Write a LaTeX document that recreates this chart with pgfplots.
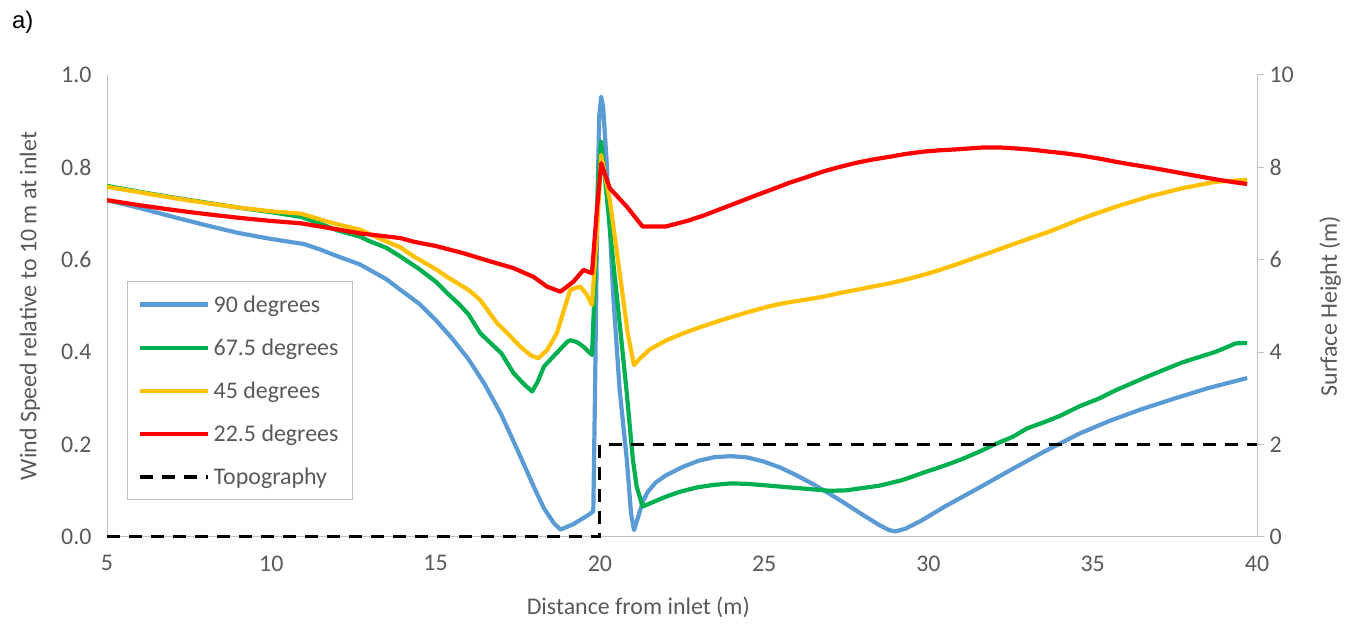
\documentclass[border=0pt]{standalone}
\usepackage{pgfplots}
\pgfplotsset{compat=1.18}
\usepackage{fontspec}
\setmainfont{Carlito}
\newfontfamily\arialfont{Liberation Sans}
\definecolor{cblue}{HTML}{5B9BD5}
\definecolor{cgreen}{HTML}{00B050}
\definecolor{cyellow}{HTML}{FFC000}
\definecolor{cred}{HTML}{FF0000}
\definecolor{txt}{HTML}{595959}
\definecolor{axc}{HTML}{BFBFBF}

\pgfplotstableread{
x y
5 0.729
6 0.712
7 0.693
8 0.675
9 0.658
10 0.645
11 0.634
11.5 0.622
12 0.608
12.7 0.590
13 0.578
13.5 0.558
13.93 0.535
14.5 0.505
15 0.470
15.5 0.430
16 0.385
16.5 0.330
17 0.265
17.5 0.187
18 0.107
18.3 0.062
18.6 0.030
18.8 0.016
19.2 0.028
19.7 0.050
19.8 0.056
19.85 0.30
19.92 0.70
19.98 0.91
20.04 0.953
20.1 0.93
20.2 0.82
20.4 0.53
20.6 0.32
20.82 0.167
20.95 0.05
21.04 0.015
21.15 0.040
21.3 0.075
21.45 0.097
21.7 0.118
22.0 0.133
22.5 0.151
23.0 0.165
23.5 0.173
24.0 0.175
24.5 0.172
25.0 0.163
25.5 0.150
26.0 0.133
26.5 0.114
27.0 0.093
27.5 0.071
28.0 0.048
28.5 0.026
28.8 0.015
29.0 0.012
29.3 0.018
29.8 0.036
30.5 0.066
31.5 0.105
32.5 0.145
33.5 0.184
34.6 0.224
35.5 0.251
36.5 0.277
37.5 0.300
38.5 0.322
39.7 0.344
}\blue

\pgfplotstableread{
x y
5 0.760
6 0.747
7 0.735
8 0.724
9 0.713
10 0.703
10.9 0.693
11.5 0.678
12 0.664
12.7 0.650
13 0.640
13.5 0.626
13.93 0.607
14.5 0.580
15 0.553
15.35 0.528
15.7 0.505
16 0.482
16.36 0.441
16.7 0.418
17 0.398
17.37 0.355
17.7 0.330
17.94 0.315
18.1 0.335
18.3 0.369
18.6 0.392
19.0 0.422
19.1 0.426
19.3 0.422
19.5 0.412
19.76 0.394
19.85 0.55
19.95 0.78
20.04 0.856
20.15 0.78
20.4 0.60
20.62 0.45
20.82 0.311
21.0 0.17
21.12 0.109
21.3 0.066
21.6 0.075
22.0 0.087
22.44 0.098
23.0 0.108
23.5 0.113
24.0 0.116
24.5 0.115
25.0 0.112
25.5 0.109
26.0 0.106
26.5 0.103
27.0 0.100
27.5 0.101
28.0 0.106
28.5 0.111
29.2 0.123
29.8 0.138
30.55 0.156
31.0 0.168
31.56 0.185
32.0 0.200
32.57 0.217
33.0 0.235
33.5 0.248
34.0 0.262
34.6 0.283
35.2 0.300
35.71 0.318
36.72 0.349
37.73 0.378
38.75 0.401
39.35 0.419
39.7 0.420
}\green

\pgfplotstableread{
x y
5 0.758
6 0.746
7 0.734
8 0.723
9 0.713
10 0.705
10.9 0.700
11.5 0.687
12 0.677
12.7 0.665
13.33 0.645
13.93 0.627
14.34 0.607
15 0.580
15.35 0.563
16 0.535
16.36 0.513
16.87 0.463
17.2 0.440
17.58 0.412
17.9 0.393
18.13 0.387
18.4 0.405
18.69 0.441
18.9 0.490
19.1 0.535
19.4 0.542
19.6 0.525
19.76 0.502
19.9 0.65
20.04 0.827
20.3 0.73
20.62 0.563
20.85 0.44
21.04 0.372
21.2 0.385
21.5 0.405
22.0 0.425
22.54 0.441
23.05 0.454
23.55 0.466
24.05 0.477
24.57 0.488
25.08 0.498
25.58 0.506
26.2 0.513
26.79 0.520
27.3 0.528
27.81 0.535
28.3 0.542
28.82 0.549
29.3 0.557
29.83 0.567
30.3 0.577
30.85 0.590
31.65 0.610
32.67 0.636
33.68 0.661
34.7 0.690
35.71 0.715
36.72 0.737
37.73 0.755
38.75 0.769
39.7 0.773
}\yellow

\pgfplotstableread{
x y
5 0.729
6 0.718
7 0.708
8 0.699
9 0.691
10 0.684
10.9 0.679
12 0.666
12.72 0.657
13.93 0.647
14.34 0.639
15.0 0.630
15.86 0.614
16.5 0.600
17.37 0.582
17.98 0.563
18.39 0.542
18.8 0.531
19.2 0.553
19.5 0.578
19.76 0.571
19.9 0.70
20.04 0.809
20.3 0.755
20.82 0.715
21.3 0.672
22.0 0.672
22.7 0.685
23.2 0.697
23.75 0.712
24.3 0.727
24.77 0.740
25.3 0.754
25.78 0.767
26.3 0.779
26.79 0.791
27.3 0.801
27.81 0.810
28.3 0.817
28.82 0.823
29.3 0.829
29.83 0.834
30.35 0.837
30.85 0.839
31.65 0.843
32.2 0.843
32.67 0.841
33.2 0.838
33.68 0.834
34.2 0.830
34.7 0.825
35.2 0.819
35.71 0.812
36.2 0.806
36.72 0.800
37.2 0.794
37.73 0.787
38.2 0.781
38.75 0.774
39.2 0.769
39.7 0.764
}\red

\pgfplotstableread{
x y
5 0
20 0
20 2
40 2
}\topo

\begin{document}
\begin{tikzpicture}[x=1bp,y=1bp]
\useasboundingbox (0,0) rectangle (1358,628);
\node[anchor=west,font=\arialfont\fontsize{24}{28}\selectfont,inner sep=0pt] at (12,606) {a)};
\pgfplotsset{
  base/.style={
    at={(107bp,91bp)}, anchor=south west, scale only axis,
    width=1150bp, height=462bp, xmin=5, xmax=40,
    axis line style={axc,line width=1pt,-},
    tick label style={font=\fontsize{24}{28}\selectfont, text=txt},
    label style={font=\fontsize{24}{28}\selectfont, text=txt},
    /pgf/number format/assume math mode=true,
  }
}
\begin{axis}[base,
  ymin=0, ymax=1,
  axis x line*=bottom, axis y line*=left,
  xtick={5,10,...,40}, ytick={0,0.2,0.4,0.6,0.8,1.0},
  major tick length=0pt,
  y tick label style={/pgf/number format/fixed,/pgf/number format/fixed zerofill,/pgf/number format/precision=1},
  xticklabel style={yshift=-15bp},
  yticklabel style={xshift=-12bp},
  xlabel={Distance from inlet (m)},
  ylabel={Wind Speed relative to 10 m at inlet},
  xlabel style={at={(axis description cs:0.462,-0.1515)}, anchor=center},
  ylabel style={at={(axis description cs:-0.067,0.5)}, anchor=center},
  every axis plot/.append style={line width=4.2bp, line join=round},
]
\addplot[cblue] table {\blue};
\addplot[cgreen] table {\green};
\addplot[cyellow] table {\yellow};
\addplot[cred] table {\red};
\end{axis}
\begin{axis}[base,
  ymin=0, ymax=10, clip=false,
  axis x line=none, axis y line*=right,
  ytick={0,2,...,10},
  tick align=outside, major tick length=7bp,
  major tick style={axc,line width=1pt},
  yticklabel style={xshift=2bp},
  ylabel={Surface Height (m)},
  ylabel style={at={(axis description cs:1.0635,0.5)}, anchor=center},
  legend style={at={(0.0174,0.554)}, anchor=north west, draw=axc, line width=1pt,
    fill=white, font=\fontsize{24}{28}\selectfont, text=txt,
    row sep=21bp, inner xsep=10bp, inner ysep=12bp,
    nodes={inner xsep=4bp}},
  legend cell align=left,
  legend image code/.code={\draw[#1,line width=4.2bp] (0bp,0bp) -- (68bp,0bp);},
]
\addlegendimage{cblue}
\addlegendentry{90 degrees}
\addlegendimage{cgreen}
\addlegendentry{67.5 degrees}
\addlegendimage{cyellow}
\addlegendentry{45 degrees}
\addlegendimage{cred}
\addlegendentry{22.5 degrees}
\addplot[black, line width=3bp, dash pattern=on 13bp off 9bp] table {\topo};
\addlegendentry{Topography}
\end{axis}
\end{tikzpicture}
\end{document}
